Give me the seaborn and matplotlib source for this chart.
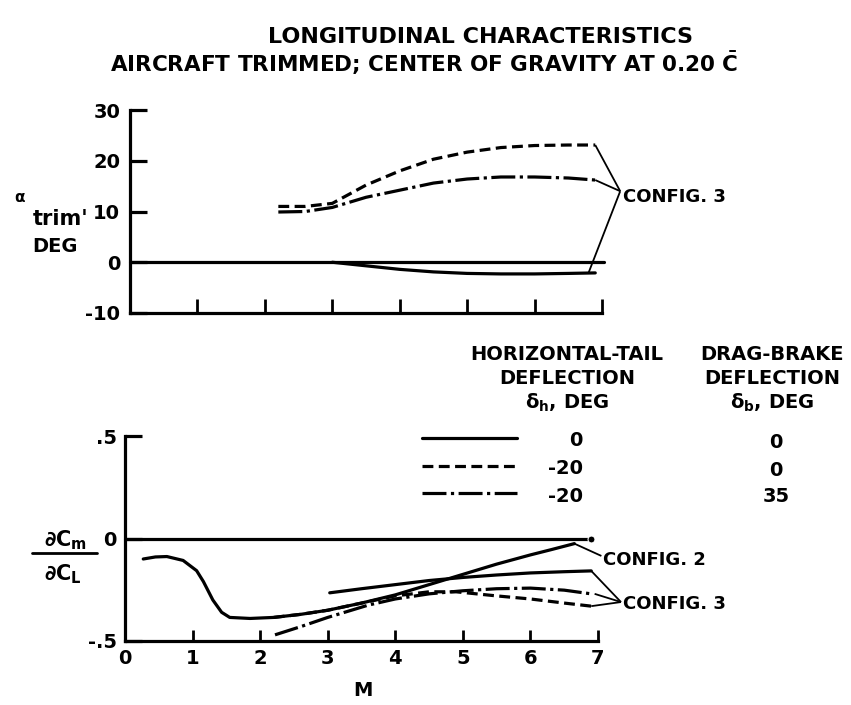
import matplotlib
matplotlib.use("Agg")
import matplotlib.pyplot as plt
from matplotlib.lines import Line2D
from matplotlib import font_manager
import seaborn as sns
import pandas as pd

# ---------------- data ----------------
# upper panel: trim angle of attack, deg, against Mach number
mach_top_ref = [0.0, 7.03]
alpha_top_ref = [0.0, 0.0]

mach_top_solid = [3.0, 3.5, 4.0, 4.5, 5.0, 5.5, 6.0, 6.5, 6.9]
alpha_top_solid = [0.0, -0.7, -1.4, -1.9, -2.2, -2.3, -2.3, -2.2, -2.1]

mach_top_broken = [2.2, 2.6, 3.0, 3.5, 4.0, 4.5, 5.0, 5.5, 6.0, 6.5, 6.9]
alpha_top_dashed = [11.0, 11.0, 11.6, 15.2, 18.0, 20.3, 21.7, 22.6, 23.0, 23.1, 23.1]
alpha_top_dashdot = [9.9, 10.0, 10.8, 12.8, 14.2, 15.6, 16.4, 16.8, 16.8, 16.6, 16.2]

# lower panel: static margin dCm/dCL against Mach number
mach_bot_ref = [0.0, 6.9]
slope_bot_ref = [0.0, 0.0]

mach_cfg2 = [0.27, 0.45, 0.62, 0.86, 1.06, 1.16, 1.3, 1.43, 1.55, 1.85, 2.2,
             2.6, 3.0, 3.5, 4.0, 4.5, 5.0, 5.5, 6.0, 6.3, 6.65]
slope_cfg2 = [-0.10, -0.09, -0.088, -0.107, -0.157, -0.21, -0.30, -0.36, -0.385,
              -0.39, -0.385, -0.37, -0.35, -0.315, -0.275, -0.225, -0.175,
              -0.125, -0.08, -0.055, -0.025]

mach_cfg3_solid = [3.03, 3.5, 4.0, 4.5, 5.0, 5.5, 6.0, 6.5, 6.9]
slope_cfg3_solid = [-0.265, -0.245, -0.225, -0.205, -0.19, -0.178, -0.168, -0.162, -0.158]

mach_cfg3_dashed = [2.2, 2.6, 3.0, 3.5, 4.0, 4.5, 4.9, 5.5, 6.0, 6.5, 6.9]
slope_cfg3_dashed = [-0.385, -0.37, -0.35, -0.315, -0.28, -0.26, -0.26, -0.28, -0.295, -0.315, -0.33]

mach_cfg3_dashdot = [2.22, 2.6, 3.0, 3.3, 3.6, 4.0, 4.5, 5.0, 5.5, 6.0, 6.5, 6.9]
slope_cfg3_dashdot = [-0.47, -0.43, -0.385, -0.355, -0.325, -0.295, -0.27, -0.255,
                      -0.245, -0.242, -0.252, -0.27]

top_yticks = [-10, 0, 10, 20, 30]
top_yticklabels = ["-10", "0", "10", "20", "30"]
bot_yticks = [-0.5, 0.0, 0.5]
bot_yticklabels = ["-.5", "0", ".5"]
mach_ticks = [0, 1, 2, 3, 4, 5, 6, 7]
mach_ticklabels = ["0", "1", "2", "3", "4", "5", "6", "7"]

legend_tail = ["0", "-20", "-20"]
legend_brake = ["0", "0", "35"]

# ---------------- style ----------------
sns.set_theme(style="ticks")
names = {f.name for f in font_manager.fontManager.ttflist}
family = "Liberation Sans Narrow" if "Liberation Sans Narrow" in names else "DejaVu Sans"
plt.rcParams["font.family"] = [family, "DejaVu Sans"]
plt.rcParams["font.weight"] = "bold"
plt.rcParams["mathtext.default"] = "bf"
plt.rcParams["text.color"] = "black"
plt.rcParams["axes.labelcolor"] = "black"
plt.rcParams["xtick.color"] = "black"
plt.rcParams["ytick.color"] = "black"

W, H = 851, 705
fig = plt.figure(figsize=(W / 100, H / 100), dpi=100)
fig.patch.set_facecolor("white")


def fx(x):
    return x / W


def fy(y):
    return 1 - y / H


ax_top = fig.add_axes([fx(130), fy(313), (602 - 130) / W, (313 - 110) / H])
ax_bot = fig.add_axes([fx(125), fy(641), (598 - 125) / W, (641 - 436) / H])

LW = 2.3
dashed = (0, (3.4, 1.7))
dashdot = (0, (7.5, 1.4, 1.0, 1.4))


def draw(ax, x, y, ls="-", lw=LW, **kw):
    df = pd.DataFrame({"M": x, "v": y})
    sns.lineplot(data=df, x="M", y="v", ax=ax, color="black", linewidth=lw,
                 linestyle=ls, estimator=None, sort=False, clip_on=False, **kw)


# upper panel curves
draw(ax_top, mach_top_ref, alpha_top_ref)
draw(ax_top, mach_top_solid, alpha_top_solid)
draw(ax_top, mach_top_broken, alpha_top_dashed, ls=dashed)
draw(ax_top, mach_top_broken, alpha_top_dashdot, ls=dashdot)

# lower panel curves
draw(ax_bot, mach_bot_ref, slope_bot_ref, marker="o", markersize=5, markevery=[1])
draw(ax_bot, mach_cfg2, slope_cfg2)
draw(ax_bot, mach_cfg3_solid, slope_cfg3_solid)
draw(ax_bot, mach_cfg3_dashed, slope_cfg3_dashed, ls=dashed)
draw(ax_bot, mach_cfg3_dashdot, slope_cfg3_dashdot, ls=dashdot)

for ax in (ax_top, ax_bot):
    ax.set_facecolor("white")
    for s in ("top", "right"):
        ax.spines[s].set_visible(False)
    for s in ("left", "bottom"):
        ax.spines[s].set_linewidth(2.3)
        ax.spines[s].set_color("black")
    ax.set_xlim(0, 7)
    ax.set_xlabel("")
    ax.set_ylabel("")
    ax.grid(False)

ax_top.set_ylim(-10, 30)
ax_top.set_xticks(mach_ticks[1:])
ax_top.set_yticks(top_yticks)
ax_top.set_yticklabels(top_yticklabels)
ax_top.tick_params(axis="x", direction="in", length=10, width=2.0, labelbottom=False)
ax_top.tick_params(axis="y", direction="in", length=12, width=2.3, pad=7,
                   labelsize=14, colors="black")

ax_bot.set_ylim(-0.5, 0.5)
ax_bot.set_xticks(mach_ticks)
ax_bot.set_xticklabels(mach_ticklabels)
ax_bot.set_yticks(bot_yticks)
ax_bot.set_yticklabels(bot_yticklabels)
ax_bot.tick_params(axis="x", direction="in", length=8, width=2.0, pad=6,
                   labelsize=14, colors="black")
ax_bot.tick_params(axis="y", direction="in", length=12, width=2.3, pad=6,
                   labelsize=14, colors="black")
for lab in ax_top.get_yticklabels() + ax_bot.get_yticklabels() + ax_bot.get_xticklabels():
    lab.set_fontweight("bold")


# configuration call-outs with leader lines
def callout(ax, ends, joint, text, text_xy):
    for (xe, ye) in ends:
        ax.plot([xe, joint[0]], [ye, joint[1]], color="black", lw=1.3,
                clip_on=False, solid_capstyle="butt")
    ax.text(text_xy[0], text_xy[1], text, ha="left", va="center",
            fontsize=13, fontweight="bold", clip_on=False)


callout(ax_top,
        [(mach_top_broken[-1], alpha_top_dashed[-1]),
         (mach_top_broken[-1], alpha_top_dashdot[-1]),
         (mach_top_solid[-1] - 0.1, alpha_top_solid[-1])],
        (7.27, 14.0), "CONFIG. 3", (7.31, 12.8))

callout(ax_bot, [(mach_cfg2[-1], slope_cfg2[-1])], (7.05, -0.085),
        "CONFIG. 2", (7.08, -0.105))

callout(ax_bot,
        [(mach_cfg3_solid[-1], slope_cfg3_solid[-1]),
         (mach_cfg3_dashdot[-1] + 0.05, slope_cfg3_dashdot[-1]),
         (mach_cfg3_dashed[-1], slope_cfg3_dashed[-1])],
        (7.34, -0.31), "CONFIG. 3", (7.37, -0.318))

# titles
fig.text(fx(480), fy(37), "LONGITUDINAL CHARACTERISTICS", ha="center", va="center",
         fontsize=16, fontweight="bold")
fig.text(fx(424), fy(63), r"AIRCRAFT TRIMMED; CENTER OF GRAVITY AT 0.20 $\bar{C}$",
         ha="center", va="center", fontsize=15.5, fontweight="bold")

# axis titles
fig.text(fx(20), fy(198), r"$\alpha$", ha="center", va="center", fontsize=11)
fig.text(fx(61), fy(219), "trim'", ha="center", va="center", fontsize=15,
         fontweight="bold")
fig.text(fx(55), fy(246), "DEG", ha="center", va="center", fontsize=14,
         fontweight="bold")

fig.text(fx(66), fy(540), r"$\partial C_m$", ha="center", va="center", fontsize=15)
fig.add_artist(Line2D([fx(32), fx(97)], [fy(553), fy(553)], color="black", lw=2.0,
                      transform=fig.transFigure))
fig.text(fx(63), fy(574), r"$\partial C_L$", ha="center", va="center", fontsize=15)
fig.text(fx(363), fy(690), "M", ha="center", va="center", fontsize=14,
         fontweight="bold")

# line-style key
HDR = 14
fig.text(fx(567), fy(355), "HORIZONTAL-TAIL", ha="center", va="center", fontsize=HDR,
         fontweight="bold")
fig.text(fx(567), fy(379), "DEFLECTION", ha="center", va="center", fontsize=HDR,
         fontweight="bold")
fig.text(fx(567), fy(403), r"$\delta_h$, DEG", ha="center", va="center", fontsize=HDR,
         fontweight="bold")
fig.text(fx(772), fy(355), "DRAG-BRAKE", ha="center", va="center", fontsize=HDR,
         fontweight="bold")
fig.text(fx(772), fy(379), "DEFLECTION", ha="center", va="center", fontsize=HDR,
         fontweight="bold")
fig.text(fx(772), fy(403), r"$\delta_b$, DEG", ha="center", va="center", fontsize=HDR,
         fontweight="bold")

key_rows = [438, 466, 493]
key_styles = ["-", dashed, dashdot]
for yy, ls, t, b in zip(key_rows, key_styles, legend_tail, legend_brake):
    fig.add_artist(Line2D([fx(422), fx(517)], [fy(yy), fy(yy)], color="black",
                          lw=LW, linestyle=ls, transform=fig.transFigure))
    fig.text(fx(583), fy(yy + 3), t, ha="right", va="center", fontsize=14,
             fontweight="bold")
    fig.text(fx(776), fy(yy + 4), b, ha="center", va="center", fontsize=14,
             fontweight="bold")

fig.savefig("out.png", dpi=100, facecolor="white")
